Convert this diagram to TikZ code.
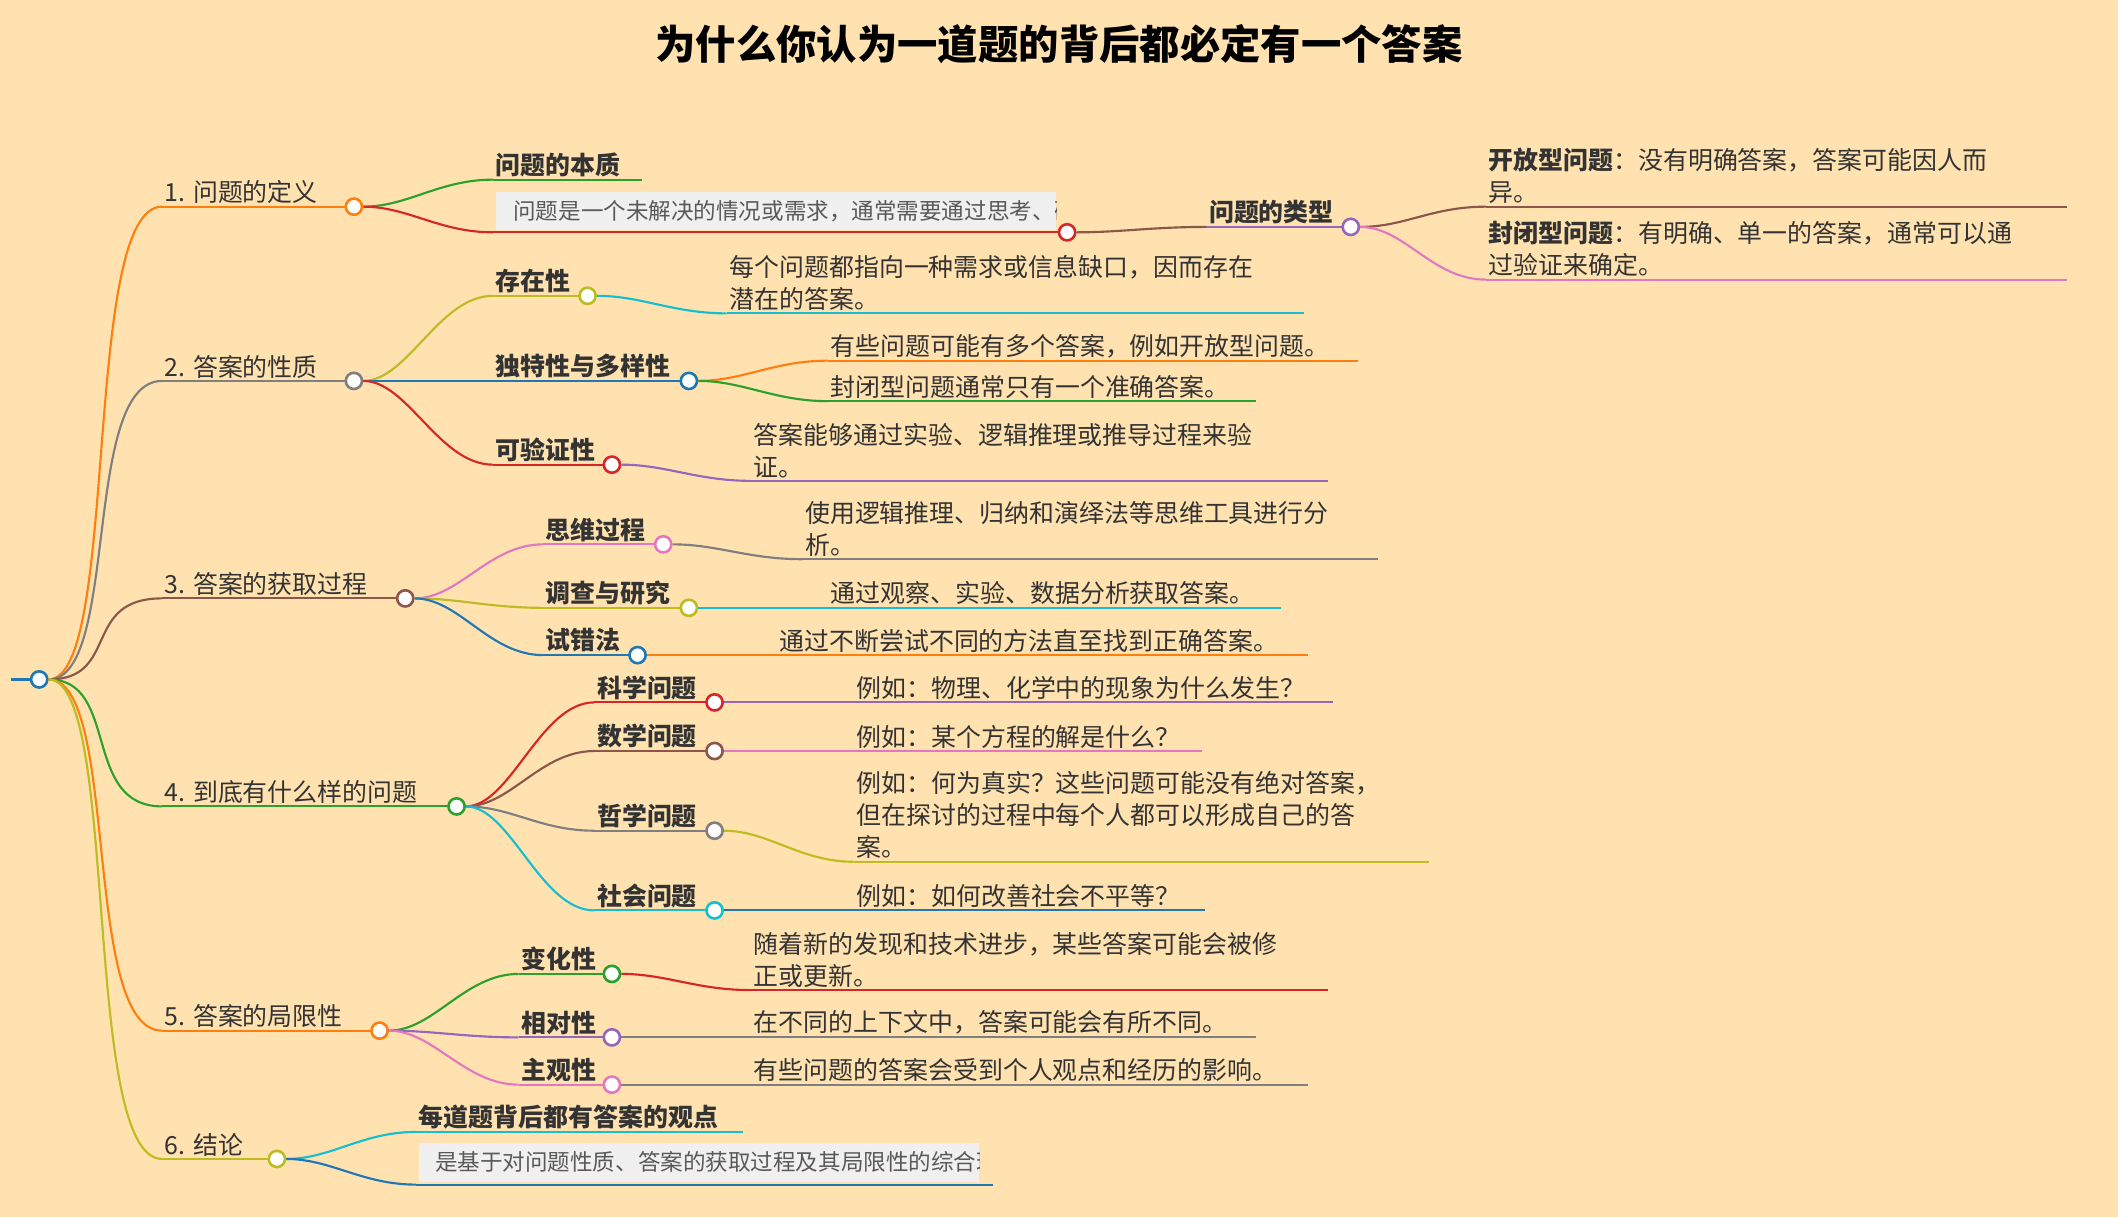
\documentclass[tikz,border=0pt]{standalone}
\usepackage{fontspec}
\setmainfont{Noto Sans CJK SC}
\usetikzlibrary{positioning}
\definecolor{bg}{HTML}{FFE2B0}
\definecolor{cOrange}{HTML}{FF7F0E}
\definecolor{cGray}{HTML}{7F7F7F}
\definecolor{cBrown}{HTML}{8C564B}
\definecolor{cGreen}{HTML}{2CA02C}
\definecolor{cOlive}{HTML}{BCBD22}
\definecolor{cCyan}{HTML}{17BECF}
\definecolor{cBlue}{HTML}{1F77B4}
\definecolor{cRed}{HTML}{D62728}
\definecolor{cPurple}{HTML}{9467BD}
\definecolor{cPink}{HTML}{E377C2}
\tikzstyle{dot} = [circle, draw, fill=white, line width=1.1pt, inner sep=0pt, minimum size=2.4mm]
\tikzstyle{lbl} = [anchor=south west, inner sep=1pt, align=left, text=black!80,
  font=\fontsize{10.5}{13.5}\selectfont]
\tikzstyle{hot} = [font=\fontsize{10.5}{13.5}\selectfont\bfseries]
\tikzstyle{edge} = [line width=0.9pt]
% topic: name, colour, start x, circle x, y, text, extra style
\newcommand{\topic}[7]{%
  \coordinate (#1s) at (#3,#5);
  \node [lbl,#7] (#1t) at (#3,#5) {#6};
  \draw [edge,#2] (#1s) -- (#4,#5);
  \node [dot,draw=#2] (#1) at (#4,#5) {};}
% leaf: name, colour, start x, end x, y, text
\newcommand{\leaf}[6]{%
  \coordinate (#1s) at (#3,#5);
  \coordinate (#1e) at (#4,#5);
  \node [lbl] (#1t) at (#3,#5) {#6};
  \draw [edge,#2] (#1s) -- (#1e);}
\newcommand{\link}[3]{%
  \draw [edge,#1] (#2) .. controls +(40,0) and +(-40,0) .. (#3s);}
\begin{document}
\begin{tikzpicture}[x=0.2mm,y=-0.2mm]
  \fill [bg] (0,0) rectangle (1568,901);
  \node [font=\fontsize{17}{20}\selectfont\bfseries] (title) at (784,33) {为什么你认为一道题的背后都必定有一个答案};
  % root
  \coordinate (rootl) at (8,503);
  \node [dot,draw=cBlue] (root) at (29,503) {};
  \draw [edge,cBlue] (rootl) -- (root);

  % level one
  \topic{A}{cOrange}{120}{262}{153}{1. 问题的定义}{}
  \topic{B}{cGray}{120}{262}{282}{2. 答案的性质}{}
  \topic{C}{cBrown}{120}{300}{443}{3. 答案的获取过程}{}
  \topic{D}{cGreen}{120}{338}{597}{4. 到底有什么样的问题}{}
  \topic{E}{cOrange}{120}{281}{763}{5. 答案的局限性}{}
  \topic{F}{cOlive}{120}{205}{858}{6. 结论}{}
  \foreach \n/\c in {A/cOrange,B/cGray,C/cBrown,D/cGreen,E/cOrange,F/cOlive}
    \draw [edge,\c] (root) .. controls +(60,0) and +(-60,0) .. (\n s);

  % 1
  \leaf{A1}{cGreen}{365}{475}{133}{\textbf{问题的本质}}
  \link{cGreen}{A}{A1}
  \fill [black!6] (367,142) rectangle (782,170);
  \begin{scope}
    \clip (367,140) rectangle (782,172);
    \node [lbl,anchor=west,text=black!65,font=\fontsize{9.5}{12}\selectfont] (A2t) at (378,156) {问题是一个未解决的情况或需求，通常需要通过思考、研究};
  \end{scope}
  \coordinate (A2s) at (365,172);
  \link{cRed}{A}{A2}
  \draw [edge,cRed] (A2s) -- (790,172);
  \node [dot,draw=cRed] (A2) at (790,172) {};
  \topic{A3}{cPurple}{893}{1000}{168}{\textbf{问题的类型}}{}
  \link{cBrown}{A2}{A3}
  \leaf{A31}{cBrown}{1100}{1530}{153}{\textbf{开放型问题}：没有明确答案，答案可能因人而\\异。}
  \leaf{A32}{cPink}{1100}{1530}{207}{\textbf{封闭型问题}：有明确、单一的答案，通常可以通\\过验证来确定。}
  \link{cBrown}{A3}{A31}
  \link{cPink}{A3}{A32}

  % 2
  \topic{B1}{cOlive}{365}{435}{219}{存在性}{hot}
  \topic{B2}{cBlue}{365}{510}{282}{独特性与多样性}{hot}
  \topic{B3}{cRed}{365}{453}{344}{可验证性}{hot}
  \link{cOlive}{B}{B1}
  \link{cBlue}{B}{B2}
  \link{cRed}{B}{B3}
  \leaf{B11}{cCyan}{538}{965}{232}{每个问题都指向一种需求或信息缺口，因而存在\\潜在的答案。}
  \leaf{B21}{cOrange}{613}{1005}{267}{有些问题可能有多个答案，例如开放型问题。}
  \leaf{B22}{cGreen}{613}{930}{297}{封闭型问题通常只有一个准确答案。}
  \leaf{B31}{cPurple}{556}{983}{356}{答案能够通过实验、逻辑推理或推导过程来验\\证。}
  \link{cCyan}{B1}{B11}
  \link{cOrange}{B2}{B21}
  \link{cGreen}{B2}{B22}
  \link{cPurple}{B3}{B31}

  % 3
  \topic{C1}{cPink}{402}{491}{403}{思维过程}{hot}
  \topic{C2}{cOlive}{402}{510}{450}{调查与研究}{hot}
  \topic{C3}{cBlue}{402}{472}{485}{试错法}{hot}
  \link{cPink}{C}{C1}
  \link{cOlive}{C}{C2}
  \link{cBlue}{C}{C3}
  \leaf{C11}{cGray}{594}{1020}{414}{使用逻辑推理、归纳和演绎法等思维工具进行分\\析。}
  \leaf{C21}{cCyan}{613}{948}{450}{通过观察、实验、数据分析获取答案。}
  \leaf{C31}{cOrange}{575}{968}{485}{通过不断尝试不同的方法直至找到正确答案。}
  \link{cGray}{C1}{C11}
  \link{cCyan}{C2}{C21}
  \link{cOrange}{C3}{C31}

  % 4
  \topic{D1}{cRed}{440}{529}{520}{科学问题}{hot}
  \topic{D2}{cBrown}{440}{529}{556}{数学问题}{hot}
  \topic{D3}{cGray}{440}{529}{615}{哲学问题}{hot}
  \topic{D4}{cCyan}{440}{529}{674}{社会问题}{hot}
  \foreach \n/\c in {D1/cRed,D2/cBrown,D3/cGray,D4/cCyan}
    {\link{\c}{D}{\n}}
  \leaf{D11}{cPurple}{632}{987}{520}{例如：物理、化学中的现象为什么发生？}
  \leaf{D21}{cPink}{632}{890}{556}{例如：某个方程的解是什么？}
  \leaf{D31}{cOlive}{632}{1058}{638}{例如：何为真实？这些问题可能没有绝对答案，\\但在探讨的过程中每个人都可以形成自己的答\\案。}
  \leaf{D41}{cBlue}{632}{892}{674}{例如：如何改善社会不平等？}
  \link{cPurple}{D1}{D11}
  \link{cPink}{D2}{D21}
  \link{cOlive}{D3}{D31}
  \link{cBlue}{D4}{D41}

  % 5
  \topic{E1}{cGreen}{384}{453}{721}{变化性}{hot}
  \topic{E2}{cPurple}{384}{453}{768}{相对性}{hot}
  \topic{E3}{cPink}{384}{453}{803}{主观性}{hot}
  \link{cGreen}{E}{E1}
  \link{cPurple}{E}{E2}
  \link{cPink}{E}{E3}
  \leaf{E11}{cRed}{556}{983}{733}{随着新的发现和技术进步，某些答案可能会被修\\正或更新。}
  \leaf{E21}{cGray}{556}{930}{768}{在不同的上下文中，答案可能会有所不同。}
  \leaf{E31}{cGray}{556}{968}{803}{有些问题的答案会受到个人观点和经历的影响。}
  \link{cRed}{E1}{E11}
  \link{cGray}{E2}{E21}
  \link{cGray}{E3}{E31}

  % 6
  \leaf{F1}{cCyan}{308}{550}{838}{\textbf{每道题背后都有答案的观点}}
  \link{cCyan}{F}{F1}
  \fill [black!6] (310,846) rectangle (725,875);
  \begin{scope}
    \clip (310,844) rectangle (725,877);
    \node [lbl,anchor=west,text=black!65,font=\fontsize{9.5}{12}\selectfont] (F2t) at (320,860) {是基于对问题性质、答案的获取过程及其局限性的综合理解};
  \end{scope}
  \coordinate (F2s) at (308,877);
  \coordinate (F2e) at (735,877);
  \link{cBlue}{F}{F2}
  \draw [edge,cBlue] (F2s) -- (F2e);
\end{tikzpicture}
\end{document}
